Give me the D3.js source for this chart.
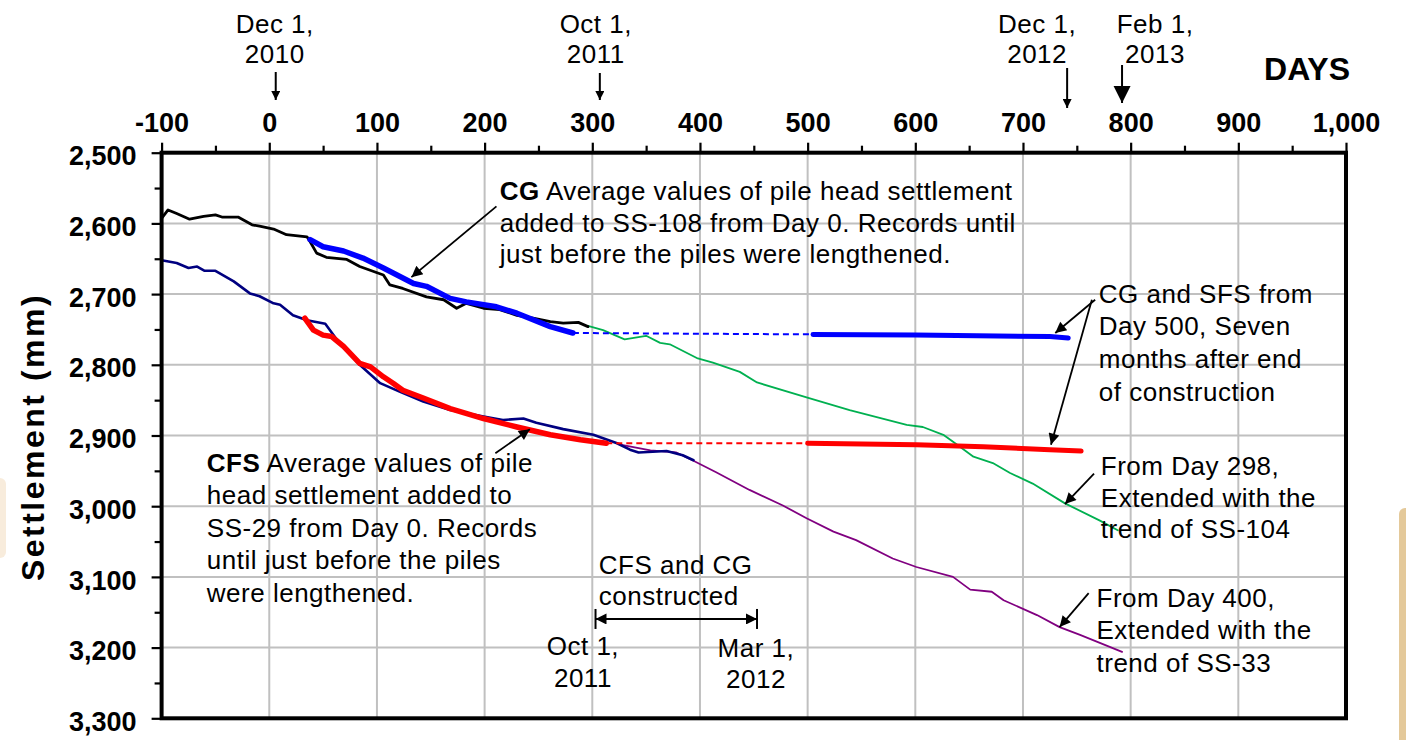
<!DOCTYPE html>
<html>
<head>
<meta charset="utf-8">
<script src="https://cdn.jsdelivr.net/npm/d3@7"></script>
<style>
  body { margin: 0; background: #fff; }
  svg text { font-family: "Liberation Sans", Arial, sans-serif; fill: #000; }
  .ann { font-size: 26px; letter-spacing: 0.5px; }
  .axis text { font-size: 27px; font-weight: bold; }
</style>
</head>
<body>
<svg id="chart" width="1406" height="740"></svg>
<script>
// ---- data (days, settlement mm) ----
var xTicks = d3.range(-100, 1001, 100);
var yTicks = d3.range(2500, 3301, 100);

var ss108 = [[-100,2593],[-94,2581],[-86,2586],[-74,2594],[-61,2590],[-50,2588],[-44,2591],[-29,2591],
  [-16,2602],[-9,2604],[4,2608],[16,2616],[35,2619],[38,2626],[44,2642],[53,2648],[72,2651],[84,2661],
  [106,2673],[112,2687],[124,2692],[146,2704],[162,2708],[174,2720],[183,2713],[199,2720],[214,2722],
  [230,2730],[245,2734],[261,2739],[273,2741],[287,2740],[296,2746]];

var ss29 = [[-100,2652],[-86,2656],[-75,2663],[-67,2661],[-60,2667],[-50,2667],[-33,2682],[-18,2699],
  [-9,2703],[4,2713],[10,2715],[22,2730],[35,2737],[52,2742],[63,2765],[84,2800],[103,2826],[121,2838],
  [143,2852],[168,2864],[199,2873],[217,2878],[236,2876],[248,2882],[273,2891],[301,2899],[323,2911],
  [335,2920],[343,2924],[369,2922],[384,2928],[394,2935]];

var cg = [[38,2623],[50,2633],[69,2639],[87,2649],[106,2663],[134,2685],[146,2689],[168,2706],[183,2711],
  [211,2718],[230,2727],[261,2746],[282,2755]];
var cgGap = [[282,2755],[505,2757]];
var cgLate = [[505,2757],[600,2758],[725,2760],[742,2762]];

var cfs = [[33,2734],[41,2751],[50,2758],[58,2760],[69,2774],[84,2798],[94,2803],[106,2817],[115,2826],
  [124,2836],[143,2847],[168,2862],[199,2876],[230,2888],[261,2899],[289,2906],[313,2911]];
var cfsGap = [[313,2911],[500,2911]];
var cfsLate = [[500,2911],[601,2913],[663,2916],[725,2920],[754,2922]];

var ss104Trend = [[296,2745],[310,2751],[330,2764],[350,2759],[363,2769],[372,2771],[398,2791],[412,2797],
  [437,2810],[453,2825],[499,2846],[539,2864],[592,2885],[607,2888],[626,2899],[637,2911],[654,2930],
  [672,2939],[688,2953],[709,2968],[739,2996],[771,3020],[788,3034]];

var ss33Trend = [[326,2913],[354,2921],[378,2924],[393,2935],[415,2952],[446,2977],[477,2999],[499,3017],
  [524,3036],[545,3048],[579,3074],[601,3086],[635,3100],[651,3118],[671,3121],[682,3133],[713,3154],
  [734,3171],[753,3182],[792,3206]];

// dates marked above the day axis
var dateText = [["Dec 1,", "2010"], ["Oct 1,", "2011"], ["Dec 1,", "2012"], ["Feb 1,", "2013"]];
var dateDay = [6, 307, 741, 792];

// construction period (days)
var buildStart = 303, buildEnd = 453;

// ---- layout ----
var svg = d3.select("#chart");
var x = d3.scaleLinear().domain([-100, 1000]).range([161.6, 1346]);
var y = d3.scaleLinear().domain([2500, 3300]).range([152.7, 718.3]);
var fmt = function(d) { return d3.format(",")(d).replace("\u2212", "-"); };

// slide background bits
svg.append("rect").attr("x", 1399).attr("y", 508).attr("width", 12).attr("height", 240)
   .attr("rx", 6).attr("fill", "#e4c99a");
svg.append("rect").attr("x", -6).attr("y", 478).attr("width", 12).attr("height", 80)
   .attr("rx", 6).attr("fill", "#f8ecdc");

var defs = svg.append("defs");
function marker(id, w, h) {
  defs.append("marker").attr("id", id)
      .attr("viewBox", "0 0 10 10").attr("refX", 10).attr("refY", 5)
      .attr("markerUnits", "userSpaceOnUse")
      .attr("markerWidth", w).attr("markerHeight", h)
      .attr("orient", "auto-start-reverse")
    .append("path").attr("d", "M0,0L10,5L0,10z").attr("fill", "#000");
}
marker("arr", 15, 11);
marker("arrSmall", 11, 9);
marker("arrBig", 17, 20);

// grid
var grid = svg.append("g").attr("stroke", "#c0c0c0").attr("stroke-width", 2);
grid.selectAll(".gx").data(xTicks.slice(1, -1)).join("line")
    .attr("x1", function(d) { return x(d); }).attr("x2", function(d) { return x(d); })
    .attr("y1", y(2500)).attr("y2", y(3300));
grid.selectAll(".gy").data(yTicks.slice(1, -1)).join("line")
    .attr("y1", function(d) { return y(d); }).attr("y2", function(d) { return y(d); })
    .attr("x1", x(-100)).attr("x2", x(1000));

// series
var line = d3.line().x(function(d) { return x(d[0]); }).y(function(d) { return y(d[1]); });
function series(data, color, width, dash) {
  svg.append("path").datum(data).attr("d", line)
     .attr("fill", "none").attr("stroke", color).attr("stroke-width", width)
     .attr("stroke-linejoin", "round").attr("stroke-linecap", dash ? "butt" : "round")
     .attr("stroke-dasharray", dash || null);
}
series(ss104Trend, "#00b050", 1.8);
series(ss33Trend, "#800080", 1.8);
series(ss108, "#000000", 2.8);
series(ss29, "#000080", 2.6);
series(cgGap, "#0000ff", 2, "6,4");
series(cfsGap, "#ff0000", 2, "6,4");
series(cg, "#0000ff", 5.5);
series(cgLate, "#0000ff", 5);
series(cfs, "#ff0000", 5.5);
series(cfsLate, "#ff0000", 5);

// frame
svg.append("rect").attr("x", x(-100)).attr("y", y(2500))
   .attr("width", x(1000) - x(-100)).attr("height", y(3300) - y(2500))
   .attr("fill", "none").attr("stroke", "#000").attr("stroke-width", 4);

// axes
var xAxisG = svg.append("g").attr("class", "axis").attr("transform", "translate(0," + y(2500) + ")");
xAxisG.call(d3.axisTop(x).tickValues(xTicks).tickSize(10).tickSizeOuter(0).tickPadding(11).tickFormat(fmt));
xAxisG.append("g").call(d3.axisTop(x).tickValues(d3.range(-50, 1000, 100)).tickSize(7).tickFormat(""));
var yAxisG = svg.append("g").attr("class", "axis").attr("transform", "translate(" + x(-100) + ",0)");
yAxisG.call(d3.axisLeft(y).tickValues(yTicks).tickSize(10).tickSizeOuter(0).tickPadding(15).tickFormat(fmt));
yAxisG.append("g").call(d3.axisLeft(y).tickValues(d3.range(2550, 3300, 100)).tickSize(7).tickFormat(""));
svg.selectAll(".axis .domain").remove();
svg.selectAll(".axis .tick text").filter(function() { return this.textContent === ""; }).remove();
svg.selectAll(".axis .tick line").attr("stroke-width", 2.2);
yAxisG.selectAll("text").attr("dy", "0.45em");

svg.append("text").attr("x", 1307).attr("y", 80).attr("text-anchor", "middle")
   .style("font-size", "32px").style("font-weight", "bold").text("DAYS");
svg.append("text").attr("transform", "translate(44,437) rotate(-90)").attr("text-anchor", "middle")
   .style("font-size", "32px").style("font-weight", "bold").style("letter-spacing", "2.5px")
   .text("Settlement (mm)");

// text blocks: one <text> per line
function note(lines, px, py, lh, anchor, lead) {
  lines.forEach(function(ln, i) {
    var t = svg.append("text").attr("class", "ann").attr("text-anchor", anchor || "start")
       .attr("x", px).attr("y", py + i * lh);
    if (i === 0 && lead) {
      t.append("tspan").style("font-weight", "bold").text(lead);
      t.append("tspan").text(" " + ln);
    } else {
      t.text(ln);
    }
  });
}

// date arrows above the axis
var dateDx = [-1, -4, -30, 33];
var arrowTop = [72, 73, 68, 65];
var arrowBot = [100, 100, 108, 103];
dateText.forEach(function(t, i) {
  note(t, x(dateDay[i]) + dateDx[i], 33, 30, "middle");
  svg.append("line").attr("x1", x(dateDay[i])).attr("x2", x(dateDay[i]))
     .attr("y1", arrowTop[i]).attr("y2", arrowBot[i])
     .attr("stroke", "#000").attr("stroke-width", 2)
     .attr("marker-end", i === 3 ? "url(#arrBig)" : "url(#arrSmall)");
});

note(["Average values of pile head settlement", "added to SS-108 from Day 0. Records until",
      "just before the piles were lengthened."], x(214), y(2567), 31.5, "start", "CG");
note(["Average values of pile", "head settlement added to", "SS-29 from Day 0. Records",
      "until just before the piles", "were lengthened."], x(-58), y(2951.6), 32.5, "start", "CFS");
note(["CG and SFS from", "Day 500, Seven", "months after end", "of construction"], x(770.4), y(2712.2), 32.7);
note(["From Day 298,", "Extended with the", "trend of SS-104"], x(772.3), y(2956), 31.5);
note(["From Day 400,", "Extended with the", "trend of SS-33"], x(768.3), y(3142.2), 32.5);
note(["CFS and CG", "constructed"], x(306), y(3096), 31);
note(["Oct 1,", "2011"], x(291.3), y(3211), 31.7, "middle");
note(["Mar 1,", "2012"], x(452), y(3213), 31.3, "middle");
note(["SS-108"], x(-32), y(2595));
note(["SS-29"], x(-72), y(2739));

// annotation arrows (from text to curve)
var pointers = [[[211,2576],[132,2676]], [[210,2925],[242,2891]], [[767,2708],[730,2755]],
  [[764,2708],[726,2913]], [[766,2954],[739,2997]], [[761,3123],[734,3171]]];
pointers.forEach(function(p) {
  svg.append("line").attr("x1", x(p[0][0])).attr("y1", y(p[0][1]))
     .attr("x2", x(p[1][0])).attr("y2", y(p[1][1]))
     .attr("stroke", "#000").attr("stroke-width", 1.8).attr("marker-end", "url(#arr)");
});

// construction period double arrow
var yb = y(3159.5);
svg.append("line").attr("x1", x(buildStart)).attr("x2", x(buildEnd)).attr("y1", yb).attr("y2", yb)
   .attr("stroke", "#000").attr("stroke-width", 2)
   .attr("marker-start", "url(#arr)").attr("marker-end", "url(#arr)");
[buildStart, buildEnd].forEach(function(d) {
  svg.append("line").attr("x1", x(d)).attr("x2", x(d)).attr("y1", yb - 10).attr("y2", yb + 10)
     .attr("stroke", "#000").attr("stroke-width", 2);
});
</script>
</body>
</html>
